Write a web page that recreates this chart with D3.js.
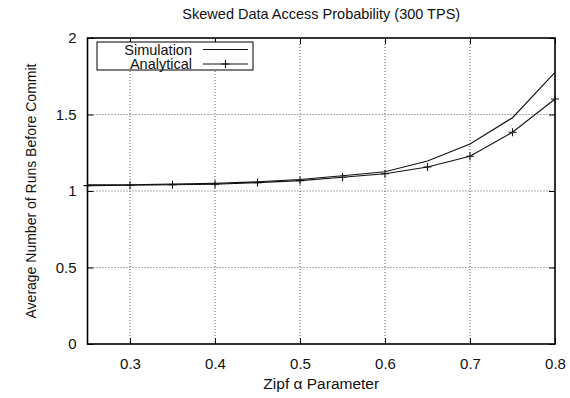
<!DOCTYPE html>
<html>
<head>
<meta charset="utf-8">
<script src="https://cdn.jsdelivr.net/npm/d3@7"></script>
<style>
  body { margin: 0; background: #fff; }
  text { font-family: "Liberation Sans", Arial, sans-serif; fill: #111; }
</style>
</head>
<body>
<div id="chart"></div>
<script>
// Chart data
var alphas = [0.25, 0.3, 0.35, 0.4, 0.45, 0.5, 0.55, 0.6, 0.65, 0.7, 0.75, 0.8];
var simulation = [1.04, 1.041, 1.045, 1.05, 1.06, 1.075, 1.1, 1.126, 1.196, 1.307, 1.479, 1.776];
var analytical = [1.035, 1.038, 1.041, 1.044, 1.055, 1.068, 1.09, 1.113, 1.157, 1.227, 1.384, 1.601];
var xTicks = [0.3, 0.4, 0.5, 0.6, 0.7, 0.8];
var yTicks = [0, 0.5, 1, 1.5, 2];

var w = 570;
var h = 398;
var mLeft = 87.5, mRight = 555, mTop = 38, mBottom = 344;

var svg = d3.select("#chart")
  .append("svg")
  .attr("width", w)
  .attr("height", h);

var xScale = d3.scaleLinear().domain([0.25, 0.8]).range([mLeft, mRight]);
var yScale = d3.scaleLinear().domain([0, 2]).range([mBottom, mTop]);

// Dotted grid
svg.append("g").selectAll("line")
  .data(xTicks.slice(0, -1))
  .join("line")
  .attr("x1", d => xScale(d)).attr("x2", d => xScale(d))
  .attr("y1", mTop).attr("y2", mBottom)
  .attr("stroke", "#333").attr("stroke-width", 0.8)
  .attr("stroke-dasharray", "1,2");

svg.append("g").selectAll("line")
  .data(yTicks.slice(1, -1))
  .join("line")
  .attr("x1", mLeft).attr("x2", mRight)
  .attr("y1", d => yScale(d)).attr("y2", d => yScale(d))
  .attr("stroke", "#333").attr("stroke-width", 0.8)
  .attr("stroke-dasharray", "1,2");

// Axes with inward ticks
var xAxis = d3.axisBottom(xScale).tickValues(xTicks).tickSize(-6).tickPadding(14).tickFormat(d3.format(".1f"));
var xAxisTop = d3.axisTop(xScale).tickValues(xTicks).tickSize(-6).tickFormat("");
var yAxis = d3.axisLeft(yScale).tickValues(yTicks).tickSize(-6).tickPadding(11).tickFormat(d => d);
var yAxisRight = d3.axisRight(yScale).tickValues(yTicks).tickSize(-6).tickFormat("");

svg.append("g").attr("transform", "translate(0," + mBottom + ")").call(xAxis);
svg.append("g").attr("transform", "translate(0," + mTop + ")").call(xAxisTop);
svg.append("g").attr("transform", "translate(" + mLeft + ",0)").call(yAxis);
svg.append("g").attr("transform", "translate(" + mRight + ",0)").call(yAxisRight);

svg.selectAll(".domain").remove();
svg.selectAll(".tick line").attr("stroke", "#000");
svg.selectAll(".tick text").style("font-size", "15px").attr("fill", "#111")
  .style("font-family", "'Liberation Sans', Arial, sans-serif");

// Frame
svg.append("rect")
  .attr("x", mLeft).attr("y", mTop)
  .attr("width", mRight - mLeft).attr("height", mBottom - mTop)
  .attr("fill", "none").attr("stroke", "#000").attr("stroke-width", 1.6);

// Lines
var simData = alphas.map((a, i) => [a, simulation[i]]);
var anaData = alphas.map((a, i) => [a, analytical[i]]);

var line = d3.line()
  .x(d => xScale(d[0]))
  .y(d => yScale(d[1]));

svg.append("path")
  .datum(simData)
  .attr("d", line)
  .attr("fill", "none").attr("stroke", "#111").attr("stroke-width", 1.1);

svg.append("path")
  .datum(anaData)
  .attr("d", line)
  .attr("fill", "none").attr("stroke", "#111").attr("stroke-width", 1.1);

// Plus markers on analytical
svg.append("g").selectAll("path")
  .data(anaData)
  .join("path")
  .attr("transform", d => "translate(" + xScale(d[0]) + "," + yScale(d[1]) + ")")
  .attr("d", "M-4,0H4M0,-4V4")
  .attr("stroke", "#111").attr("stroke-width", 1.1);

// Legend
var lg = svg.append("g");
lg.append("rect")
  .attr("x", 97).attr("y", 42).attr("width", 156).attr("height", 28)
  .attr("fill", "#fff").attr("stroke", "#000").attr("stroke-width", 1);
var legendItems = ["Simulation", "Analytical"];
legendItems.forEach(function(name, i) {
  var yy = 49.5 + i * 14.5;
  lg.append("text")
    .attr("x", 192).attr("y", yy + 5)
    .attr("text-anchor", "end")
    .style("font-size", "14.5px")
    .text(name);
  lg.append("line")
    .attr("x1", 203).attr("x2", 248)
    .attr("y1", yy).attr("y2", yy)
    .attr("stroke", "#111").attr("stroke-width", 1.1);
  if (i === 1) {
    lg.append("path")
      .attr("transform", "translate(225.5," + yy + ")")
      .attr("d", "M-4,0H4M0,-4V4")
      .attr("stroke", "#111").attr("stroke-width", 1.1);
  }
});

// Title and axis labels
svg.append("text")
  .attr("x", (mLeft + mRight) / 2).attr("y", 19)
  .attr("text-anchor", "middle")
  .style("font-size", "14.5px")
  .text("Skewed Data Access Probability (300 TPS)");

svg.append("text")
  .attr("x", (mLeft + mRight) / 2).attr("y", 389)
  .attr("text-anchor", "middle")
  .style("font-size", "15.5px")
  .text("Zipf \u03b1 Parameter");

svg.append("text")
  .attr("transform", "translate(36," + ((mTop + mBottom) / 2) + ") rotate(-90)")
  .attr("text-anchor", "middle")
  .style("font-size", "14px")
  .text("Average Number of Runs Before Commit");
</script>
</body>
</html>
